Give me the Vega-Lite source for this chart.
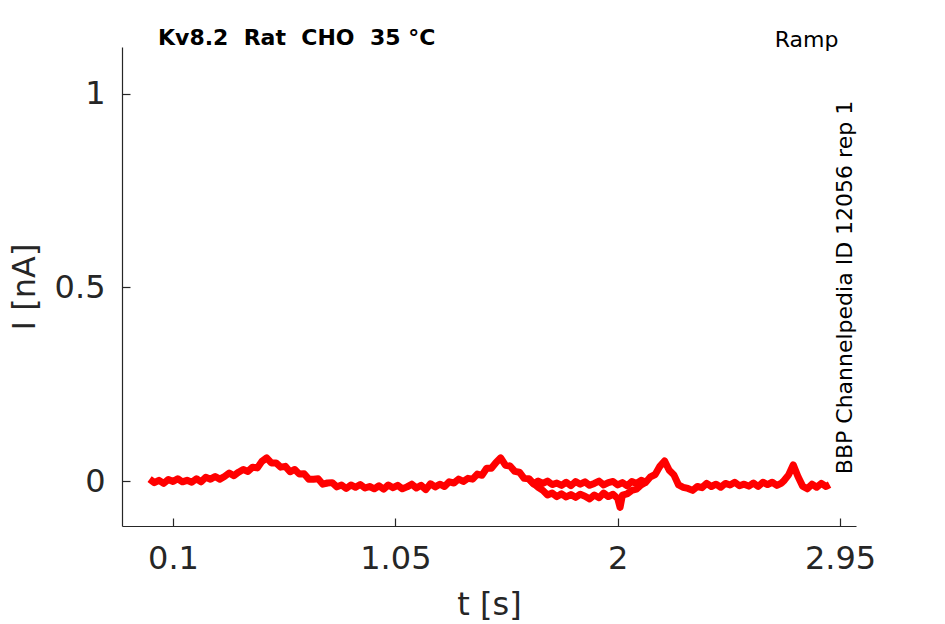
{
  "$schema": "https://vega.github.io/schema/vega-lite/v6.json",
  "width": 734,
  "height": 479,
  "autosize": "none",
  "padding": {"left": 122, "top": 47, "right": 89, "bottom": 98},
  "background": "white",
  "title": {
    "text": "Kv8.2\u00a0\u00a0Rat\u00a0\u00a0CHO\u00a0\u00a035 °C",
    "anchor": "start",
    "frame": "group",
    "dx": 36,
    "offset": -39,
    "baseline": "alphabetic",
    "font": "DejaVu Sans",
    "fontSize": 22,
    "fontWeight": "bold",
    "color": "black"
  },
  "datasets": {
    "trace": [
      {"t": 0.00, "i": 0.005, "s": "a"}, {"t": 0.02, "i": -0.004, "s": "a"}, {"t": 0.04, "i": 0.002, "s": "a"},
      {"t": 0.06, "i": -0.006, "s": "a"}, {"t": 0.08, "i": 0.004, "s": "a"}, {"t": 0.10, "i": -0.001, "s": "a"},
      {"t": 0.12, "i": 0.006, "s": "a"}, {"t": 0.14, "i": -0.002, "s": "a"}, {"t": 0.16, "i": 0.002, "s": "a"},
      {"t": 0.18, "i": -0.003, "s": "a"}, {"t": 0.20, "i": 0.006, "s": "a"}, {"t": 0.22, "i": -0.002, "s": "a"},
      {"t": 0.24, "i": 0.010, "s": "a"}, {"t": 0.26, "i": 0.005, "s": "a"}, {"t": 0.28, "i": 0.012, "s": "a"},
      {"t": 0.30, "i": 0.005, "s": "a"}, {"t": 0.32, "i": 0.012, "s": "a"}, {"t": 0.34, "i": 0.021, "s": "a"},
      {"t": 0.36, "i": 0.014, "s": "a"}, {"t": 0.38, "i": 0.023, "s": "a"}, {"t": 0.40, "i": 0.030, "s": "a"},
      {"t": 0.42, "i": 0.025, "s": "a"}, {"t": 0.44, "i": 0.036, "s": "a"}, {"t": 0.46, "i": 0.034, "s": "a"},
      {"t": 0.48, "i": 0.051, "s": "a"}, {"t": 0.50, "i": 0.060, "s": "a"}, {"t": 0.52, "i": 0.047, "s": "a"},
      {"t": 0.54, "i": 0.047, "s": "a"}, {"t": 0.56, "i": 0.036, "s": "a"}, {"t": 0.58, "i": 0.038, "s": "a"},
      {"t": 0.60, "i": 0.024, "s": "a"}, {"t": 0.62, "i": 0.030, "s": "a"}, {"t": 0.64, "i": 0.018, "s": "a"},
      {"t": 0.66, "i": 0.019, "s": "a"}, {"t": 0.68, "i": 0.005, "s": "a"}, {"t": 0.70, "i": 0.005, "s": "a"},
      {"t": 0.72, "i": 0.006, "s": "a"}, {"t": 0.74, "i": -0.008, "s": "a"}, {"t": 0.76, "i": -0.005, "s": "a"},
      {"t": 0.78, "i": -0.004, "s": "a"}, {"t": 0.80, "i": -0.015, "s": "a"}, {"t": 0.82, "i": -0.010, "s": "a"},
      {"t": 0.84, "i": -0.019, "s": "a"}, {"t": 0.86, "i": -0.010, "s": "a"}, {"t": 0.88, "i": -0.016, "s": "a"},
      {"t": 0.90, "i": -0.009, "s": "a"}, {"t": 0.92, "i": -0.018, "s": "a"}, {"t": 0.94, "i": -0.014, "s": "a"},
      {"t": 0.96, "i": -0.020, "s": "a"}, {"t": 0.98, "i": -0.012, "s": "a"}, {"t": 1.00, "i": -0.021, "s": "a"},
      {"t": 1.02, "i": -0.010, "s": "a"}, {"t": 1.04, "i": -0.017, "s": "a"}, {"t": 1.06, "i": -0.011, "s": "a"},
      {"t": 1.08, "i": -0.020, "s": "a"}, {"t": 1.10, "i": -0.015, "s": "a"}, {"t": 1.12, "i": -0.008, "s": "a"},
      {"t": 1.14, "i": -0.018, "s": "a"}, {"t": 1.16, "i": -0.011, "s": "a"}, {"t": 1.18, "i": -0.022, "s": "a"},
      {"t": 1.20, "i": -0.007, "s": "a"}, {"t": 1.22, "i": -0.015, "s": "a"}, {"t": 1.24, "i": -0.008, "s": "a"},
      {"t": 1.26, "i": -0.014, "s": "a"}, {"t": 1.28, "i": -0.002, "s": "a"}, {"t": 1.30, "i": -0.005, "s": "a"},
      {"t": 1.32, "i": 0.005, "s": "a"}, {"t": 1.34, "i": -0.001, "s": "a"}, {"t": 1.36, "i": 0.007, "s": "a"},
      {"t": 1.38, "i": 0.005, "s": "a"}, {"t": 1.40, "i": 0.018, "s": "a"}, {"t": 1.42, "i": 0.015, "s": "a"},
      {"t": 1.44, "i": 0.033, "s": "a"}, {"t": 1.46, "i": 0.033, "s": "a"}, {"t": 1.48, "i": 0.048, "s": "a"},
      {"t": 1.50, "i": 0.060, "s": "a"}, {"t": 1.52, "i": 0.041, "s": "a"}, {"t": 1.54, "i": 0.039, "s": "a"},
      {"t": 1.56, "i": 0.025, "s": "a"}, {"t": 1.58, "i": 0.023, "s": "a"}, {"t": 1.60, "i": 0.007, "s": "a"},
      {"t": 1.62, "i": 0.006, "s": "a"}, {"t": 1.64, "i": -0.007, "s": "a"}, {"t": 1.66, "i": 0.000, "s": "a"},
      {"t": 1.68, "i": -0.006, "s": "a"}, {"t": 1.70, "i": 0.000, "s": "a"}, {"t": 1.72, "i": -0.009, "s": "a"},
      {"t": 1.74, "i": -0.005, "s": "a"}, {"t": 1.76, "i": -0.011, "s": "a"}, {"t": 1.78, "i": -0.003, "s": "a"},
      {"t": 1.80, "i": -0.012, "s": "a"}, {"t": 1.82, "i": -0.001, "s": "a"}, {"t": 1.84, "i": -0.008, "s": "a"},
      {"t": 1.86, "i": -0.002, "s": "a"}, {"t": 1.88, "i": -0.011, "s": "a"}, {"t": 1.90, "i": -0.006, "s": "a"},
      {"t": 1.92, "i": 0.000, "s": "a"}, {"t": 1.94, "i": -0.010, "s": "a"}, {"t": 1.96, "i": -0.004, "s": "a"},
      {"t": 1.98, "i": -0.001, "s": "a"}, {"t": 2.00, "i": -0.010, "s": "a"}, {"t": 2.02, "i": -0.004, "s": "a"},
      {"t": 2.04, "i": -0.012, "s": "a"}, {"t": 2.06, "i": -0.001, "s": "a"}, {"t": 2.08, "i": -0.006, "s": "a"},
      {"t": 2.10, "i": 0.002, "s": "a"}, {"t": 2.12, "i": -0.003, "s": "a"}, {"t": 2.14, "i": 0.011, "s": "a"},
      {"t": 2.16, "i": 0.017, "s": "a"}, {"t": 2.18, "i": 0.038, "s": "a"}, {"t": 2.20, "i": 0.052, "s": "a"},
      {"t": 2.22, "i": 0.028, "s": "a"}, {"t": 2.24, "i": 0.016, "s": "a"}, {"t": 2.26, "i": -0.010, "s": "a"},
      {"t": 2.28, "i": -0.016, "s": "a"}, {"t": 2.30, "i": -0.019, "s": "a"}, {"t": 2.32, "i": -0.024, "s": "a"},
      {"t": 2.34, "i": -0.014, "s": "a"}, {"t": 2.36, "i": -0.017, "s": "a"}, {"t": 2.38, "i": -0.006, "s": "a"},
      {"t": 2.40, "i": -0.014, "s": "a"}, {"t": 2.42, "i": -0.008, "s": "a"}, {"t": 2.44, "i": -0.016, "s": "a"},
      {"t": 2.46, "i": -0.006, "s": "a"}, {"t": 2.48, "i": -0.010, "s": "a"}, {"t": 2.50, "i": -0.003, "s": "a"},
      {"t": 2.52, "i": -0.012, "s": "a"}, {"t": 2.54, "i": -0.008, "s": "a"}, {"t": 2.56, "i": -0.013, "s": "a"},
      {"t": 2.58, "i": -0.005, "s": "a"}, {"t": 2.60, "i": -0.014, "s": "a"}, {"t": 2.62, "i": -0.003, "s": "a"},
      {"t": 2.64, "i": -0.009, "s": "a"}, {"t": 2.66, "i": -0.003, "s": "a"}, {"t": 2.68, "i": -0.011, "s": "a"},
      {"t": 2.70, "i": -0.005, "s": "a"}, {"t": 2.71, "i": 0.001, "s": "a"}, {"t": 2.73, "i": 0.016, "s": "a"},
      {"t": 2.75, "i": 0.042, "s": "a"}, {"t": 2.77, "i": 0.012, "s": "a"}, {"t": 2.79, "i": -0.013, "s": "a"},
      {"t": 2.81, "i": -0.020, "s": "a"}, {"t": 2.83, "i": -0.008, "s": "a"}, {"t": 2.85, "i": -0.016, "s": "a"},
      {"t": 2.87, "i": -0.006, "s": "a"}, {"t": 2.89, "i": -0.014, "s": "a"}, {"t": 2.905, "i": -0.009, "s": "a"},
      {"t": 1.62, "i": 0.006, "s": "b"}, {"t": 1.64, "i": -0.006, "s": "b"}, {"t": 1.66, "i": -0.016, "s": "b"},
      {"t": 1.68, "i": -0.024, "s": "b"}, {"t": 1.70, "i": -0.036, "s": "b"}, {"t": 1.72, "i": -0.031, "s": "b"},
      {"t": 1.74, "i": -0.040, "s": "b"}, {"t": 1.76, "i": -0.033, "s": "b"}, {"t": 1.78, "i": -0.041, "s": "b"},
      {"t": 1.80, "i": -0.035, "s": "b"}, {"t": 1.82, "i": -0.042, "s": "b"}, {"t": 1.84, "i": -0.034, "s": "b"},
      {"t": 1.86, "i": -0.039, "s": "b"}, {"t": 1.88, "i": -0.046, "s": "b"}, {"t": 1.90, "i": -0.036, "s": "b"},
      {"t": 1.92, "i": -0.043, "s": "b"}, {"t": 1.94, "i": -0.031, "s": "b"}, {"t": 1.96, "i": -0.040, "s": "b"},
      {"t": 1.98, "i": -0.034, "s": "b"}, {"t": 2.00, "i": -0.045, "s": "b"}, {"t": 2.01, "i": -0.068, "s": "b"},
      {"t": 2.02, "i": -0.036, "s": "b"}, {"t": 2.04, "i": -0.033, "s": "b"}, {"t": 2.06, "i": -0.024, "s": "b"},
      {"t": 2.08, "i": -0.021, "s": "b"}, {"t": 2.10, "i": -0.010, "s": "b"}, {"t": 2.12, "i": -0.003, "s": "b"}
    ]
  },
  "data": {"name": "trace"},
  "resolve": {"axis": {"x": "independent", "y": "independent"}},
  "layer": [
    {
      "transform": [{"filter": "datum.s === 'a'"}],
      "mark": {"type": "line", "color": "#ff0000", "strokeWidth": 7, "strokeJoin": "round", "clip": true},
      "encoding": {
        "x": {
          "field": "t", "type": "quantitative",
          "scale": {"domain": [-0.118, 3.018], "nice": false, "zero": false},
          "axis": {"values": [0.1, 1.05, 2, 2.95], "format": ".3~g", "title": "t [s]", "labelPadding": 25, "titlePadding": 15}
        },
        "y": {
          "field": "i", "type": "quantitative",
          "scale": {"domain": [-0.116, 1.121], "nice": false, "zero": false},
          "axis": {"values": [0, 0.5, 1], "format": ".3~g", "title": "I [nA]", "labelPadding": 25, "titlePadding": 13}
        }
      }
    },
    {
      "transform": [{"filter": "datum.s === 'b'"}],
      "mark": {"type": "line", "color": "#ff0000", "strokeWidth": 7, "strokeJoin": "round", "clip": true},
      "encoding": {
        "x": {
          "field": "t", "type": "quantitative",
          "scale": {"domain": [-0.118, 3.018], "nice": false, "zero": false},
          "axis": {
            "orient": "top", "domain": false, "ticks": false, "labels": false,
            "title": "Ramp", "titleFontSize": 22, "titleAnchor": "end",
            "titleX": 716, "titleY": -1, "titleBaseline": "alphabetic", "titleAlign": "right", "titleColor": "black"
          }
        },
        "y": {
          "field": "i", "type": "quantitative",
          "scale": {"domain": [-0.116, 1.121], "nice": false, "zero": false},
          "axis": {
            "orient": "right", "domain": false, "ticks": false, "labels": false,
            "title": "BBP Channelpedia ID 12056 rep 1", "titleFontSize": 22, "titleAngle": 270,
            "titleX": 0, "titleY": 240, "titleAlign": "center", "titleBaseline": "bottom", "titleColor": "black"
          }
        }
      }
    }
  ],
  "config": {
    "view": {"stroke": null},
    "font": "DejaVu Sans",
    "axis": {
      "grid": false,
      "domainColor": "#262626",
      "domainWidth": 1.2,
      "tickColor": "#262626",
      "tickWidth": 1.2,
      "tickSize": -8,
      "labelColor": "#262626",
      "labelFont": "DejaVu Sans",
      "labelFontSize": 32,
      "titleColor": "#262626",
      "titleFont": "DejaVu Sans",
      "titleFontSize": 32,
      "titleFontWeight": "normal"
    }
  }
}
